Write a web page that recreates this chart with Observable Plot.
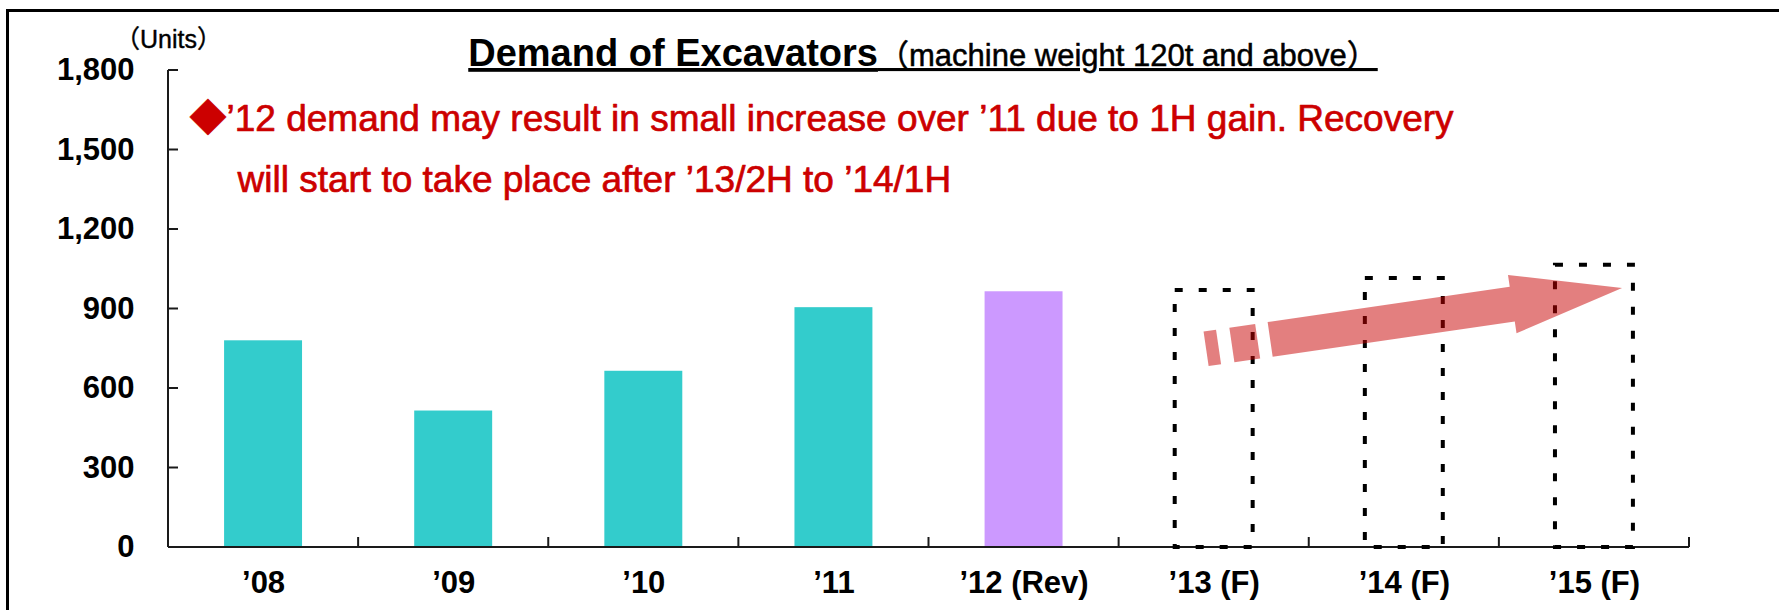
<!DOCTYPE html>
<html><head><meta charset="utf-8">
<script src="https://cdn.jsdelivr.net/npm/d3@7"></script>
<script src="https://cdn.jsdelivr.net/npm/@observablehq/plot@0.6"></script>
<style>
html,body{margin:0;padding:0;background:#fff;}
#wrap{position:relative;width:1779px;height:610px;overflow:hidden;background:#fff;}
#frame{position:absolute;left:6px;top:9px;width:1800px;height:700px;border-left:3px solid #000;border-top:3px solid #000;box-sizing:border-box;}
#chart{position:absolute;left:0;top:0;}
</style></head>
<body><div id="wrap"><div id="frame"></div><div id="chart"></div></div>
<script>
// ---- data ----
const categories = ["’08", "’09", "’10", "’11", "’12 (Rev)", "’13 (F)", "’14 (F)", "’15 (F)"];
const actualCategories = ["’08", "’09", "’10", "’11", "’12 (Rev)"];
const actualValues = [780, 515, 665, 905, 965];
const actualColors = ["#33CCCC", "#33CCCC", "#33CCCC", "#33CCCC", "#CC99FF"];
const forecastCategories = ["’13 (F)", "’14 (F)", "’15 (F)"];
const forecastValues = [970, 1015, 1065];
const yTicks = [0, 300, 600, 900, 1200, 1500, 1800];
const titleText = "Demand of Excavators";
const subtitleText = "（machine weight 120t and above）";
const unitsText = "（Units）";
const noteLine1 = "◆’12 demand may result in small increase over ’11 due to 1H gain. Recovery";
const noteLine2 = "will start to take place after ’13/2H to ’14/1H";
// trend arrow annotation (from a point near '13 to a point near '15)
const arrowFromCat = "’13 (F)", arrowFromValue = 748;
const arrowToCat = "’15 (F)", arrowToValue = 977;

// ---- build tables ----
const actual = actualCategories.map((c, i) => ({cat: c, value: actualValues[i], color: actualColors[i]}));
const forecast = forecastCategories.map((c, i) => ({cat: c, value: forecastValues[i]}));

const FONT = '"Liberation Sans", Arial, "Noto Sans CJK JP", sans-serif';
const RED = "#CC0000";

function bandInfo(x) {
  const bw = typeof x.bandwidth === "function" ? x.bandwidth() : x.bandwidth;
  const step = x(categories[1]) - x(categories[0]);
  return {bw, step};
}

const axisMark = (index, scales) => {
  const {x, y} = scales;
  const {bw, step} = bandInfo(x);
  const x0 = x(categories[0]) - (step - bw) / 2;
  const yb = y(0), yt = y(1800);
  const g = d3.create("svg:g").attr("stroke", "#1a1a1a").attr("stroke-width", 2).attr("fill", "none");
  g.append("path").attr("d", `M${x0},${yt}V${yb}`);
  for (const t of yTicks) g.append("path").attr("d", `M${x0},${y(t)}h10`);
  const xEnd = x0 + step * categories.length;
  g.append("path").attr("d", `M${x0},${yb}H${xEnd}`);
  for (let i = 1; i <= categories.length; i++) g.append("path").attr("d", `M${x0 + i * step},${yb}v-10`);
  return g.node();
};

const arrowMark = (index, scales) => {
  const {x, y} = scales;
  const {bw, step} = bandInfo(x);
  const x0 = x(arrowFromCat) + bw / 2 - 0.04 * step, y0 = y(arrowFromValue);
  const x1 = x(arrowToCat) + bw / 2 + 0.148 * step, y1 = y(arrowToValue);
  const L = Math.hypot(x1 - x0, y1 - y0);
  const ux = (x1 - x0) / L, uy = (y1 - y0) / L;
  const nx = -uy, ny = ux;
  const P = (u, v) => [x0 + ux * u * L + nx * v, y0 + uy * u * L + ny * v];
  const hw = 17.5, hh = 29.5;
  const polys = [
    [P(0, -hw), P(0.030, -hw), P(0.030, hw), P(0, hw)],
    [P(0.062, -hw), P(0.124, -hw), P(0.124, hw), P(0.062, hw)],
    [P(0.154, -hw), P(0.736, -hw), P(0.736, -hh), P(1, 0), P(0.736, hh), P(0.736, hw), P(0.154, hw)]
  ];
  const g = d3.create("svg:g").attr("fill", "#C80000").attr("fill-opacity", 0.5);
  for (const p of polys) g.append("path").attr("d", "M" + p.map(q => q.join(",")).join("L") + "Z");
  return g.node();
};

const titleMark = (index, scales, values, dims) => {
  const t = d3.create("svg:text")
    .attr("x", 923).attr("y", 66)
    .attr("text-anchor", "middle")
    .attr("fill", "#000")
    .style("text-decoration", "underline");
  t.append("tspan").attr("font-size", 38).attr("font-weight", "bold").text(titleText);
  t.append("tspan").attr("font-size", 31).attr("stroke", "#000").attr("stroke-width", 0.5).text(subtitleText);
  return t.node();
};

const plot = Plot.plot({
  width: 1779,
  height: 610,
  marginLeft: 168,
  marginRight: 90,
  marginTop: 70,
  marginBottom: 63,
  style: {fontFamily: FONT, background: "transparent", overflow: "visible"},
  x: {domain: categories, paddingInner: 0.59, paddingOuter: 0.295, round: false, axis: null},
  y: {domain: [0, 1800], axis: null},
  color: {type: "identity"},
  marks: [
    Plot.barY(actual, {x: "cat", y: "value", fill: "color"}),
    axisMark,
    Plot.barY(forecast, {x: "cat", y: "value", fill: "none", stroke: "#000", strokeWidth: 4, strokeDasharray: "8,16"}),
    arrowMark,
    Plot.text(yTicks, {y: d => d, frameAnchor: "left", dx: -34, textAnchor: "end", text: d3.format(","), fontSize: 31, fontWeight: "bold", fill: "#000"}),
    Plot.text(categories, {x: d => d, frameAnchor: "bottom", dy: 45, fontSize: 31, fontWeight: "bold", fill: "#000"}),
    Plot.text([unitsText], {frameAnchor: "top-left", dy: -40, textAnchor: "middle", fontSize: 25, fill: "#000", stroke: "#000", strokeWidth: 0.4}),
    Plot.text([noteLine1], {frameAnchor: "top-left", dx: 21, dy: 34, textAnchor: "start", fontSize: 37, fill: RED, stroke: RED, strokeWidth: 0.7}),
    Plot.text([noteLine2], {frameAnchor: "top-left", dx: 69, dy: 95, textAnchor: "start", fontSize: 37, fill: RED, stroke: RED, strokeWidth: 0.7}),
    titleMark
  ]
});
document.getElementById("chart").appendChild(plot);
</script></body></html>
